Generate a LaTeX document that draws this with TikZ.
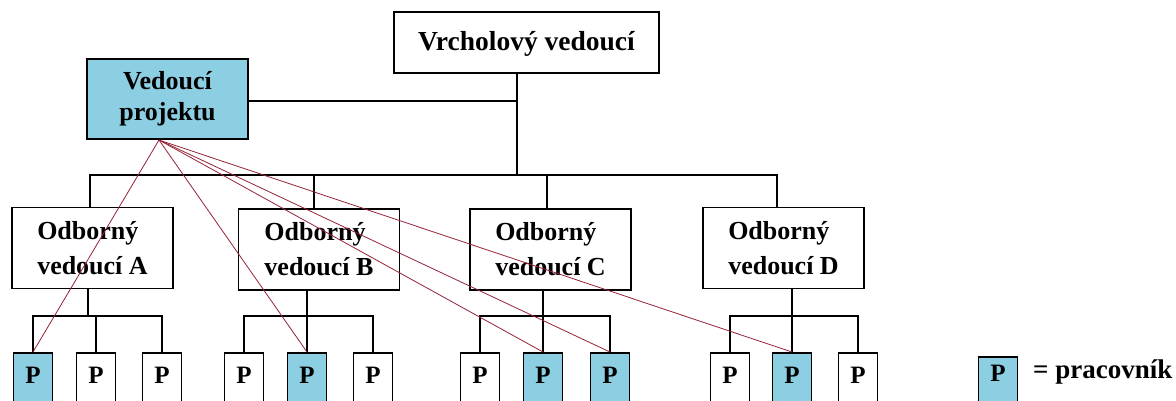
\documentclass[tikz,border=0pt]{standalone}
\usepackage{fontspec}
\setmainfont{Liberation Serif}
\definecolor{pblue}{RGB}{140,206,226}
\definecolor{redline}{RGB}{150,35,55}
\begin{document}
\begin{tikzpicture}[x=1pt,y=-1pt,
  box/.style={draw=black,line width=1.8pt,inner sep=0pt,font=\bfseries\fontsize{26}{31}\selectfont},
  mgr/.style={box,minimum width=161pt,minimum height=81pt,align=left,font=\bfseries\fontsize{26}{35}\selectfont},
  pbox/.style={box,minimum width=39pt,minimum height=58pt,anchor=north,text height=16pt,text depth=12pt,font=\bfseries\fontsize{25}{30}\selectfont},
  hl/.style={fill=pblue},
  conn/.style={line width=1.8pt},
  rl/.style={draw=redline,line width=0.8pt}]
\useasboundingbox (0,0) rectangle (1176,400);
\clip (0,0) rectangle (1176,400);
\fill[white] (0,0) rectangle (1176,400);
% top
\node[box,minimum width=265pt,minimum height=61pt,text height=19pt,text depth=4pt,font=\bfseries\fontsize{27.5}{31}\selectfont] (top) at (526.5,42.5) {Vrcholový vedoucí};
\node[box,hl,minimum width=161pt,minimum height=80pt,align=center] (vp) at (167.5,99) {Vedoucí\\projektu};
% managers
\node[mgr] (A) at (92.5,248) {Odborný\\vedoucí A};
\node[mgr] (B) at (319,249.5) {Odborný\\vedoucí B};
\node[mgr] (C) at (550.5,249.5) {Odborný\\vedoucí C};
\node[mgr] (D) at (783.5,248) {Odborný\\vedoucí D};
% workers
\node[pbox,hl] (p1) at (33,352) {P};
\node[pbox] (p2) at (96,352) {P};
\node[pbox] (p3) at (162,352) {P};
\node[pbox] (p4) at (244,352) {P};
\node[pbox,hl] (p5) at (307,352) {P};
\node[pbox] (p6) at (373,352) {P};
\node[pbox] (p7) at (480,352) {P};
\node[pbox,hl] (p8) at (543,352) {P};
\node[pbox,hl] (p9) at (610,352) {P};
\node[pbox] (p10) at (730,352) {P};
\node[pbox,hl] (p11) at (792,352) {P};
\node[pbox] (p12) at (858,352) {P};
% legend
\node[pbox,hl,text depth=24pt] (lp) at (998,356) {P};
\node[anchor=west,inner sep=0pt,font=\bfseries\fontsize{27}{30}\selectfont] (lt) at (1033,372) {= pracovník};
% tree connectors
\coordinate (bus) at (517,175);
\draw[conn] (top.south -| bus) -- (bus);
\draw[conn] (vp.east |- 0,101) -- (517,101);
\draw[conn] (A.north -| 90,0) |- (bus) -| (D.north -| 777,0);
\draw[conn] (B.north -| 314,0) -- (314,175);
\draw[conn] (C.north -| 547,0) -- (547,175);
% sub-trees
\draw[conn] (A.south -| 88,0) -- (88,316);
\draw[conn] (p1.north) |- (96,316) -| (p3.north);
\draw[conn] (p2.north) -- (96,316);
\draw[conn] (B.south -| 307,0) -- (307,316);
\draw[conn] (p4.north) |- (307,316) -| (p6.north);
\draw[conn] (p5.north) -- (307,316);
\draw[conn] (C.south -| 543,0) -- (543,316);
\draw[conn] (p7.north) |- (543,316) -| (p9.north);
\draw[conn] (p8.north) -- (543,316);
\draw[conn] (D.south -| 792,0) -- (792,316);
\draw[conn] (p10.north) |- (792,316) -| (p12.north);
\draw[conn] (p11.north) -- (792,316);
% red lines
\coordinate (src) at (159,140);
\draw[rl] (src) -- (p1.north);
\draw[rl] (src) -- (p5.north);
\draw[rl] (src) -- (p8.north);
\draw[rl] (src) -- (p9.north);
\draw[rl] (src) -- (p11.north);
\end{tikzpicture}
\end{document}
